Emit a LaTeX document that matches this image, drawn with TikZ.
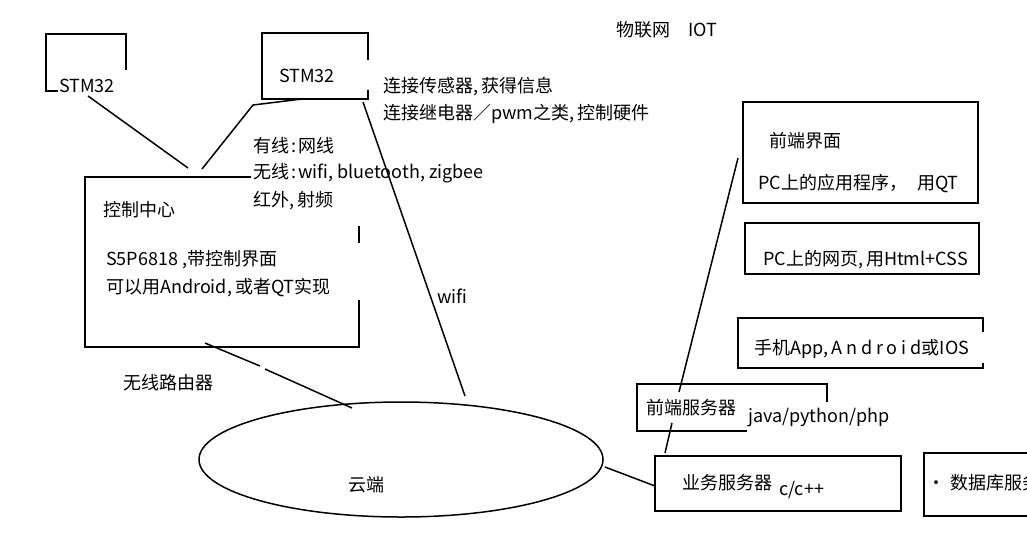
\documentclass[tikz,border=0pt]{standalone}
\usepackage{fontspec}
\setmainfont{Noto Sans CJK SC}
\usetikzlibrary{positioning}
\newcommand{\dou}{,\kern3pt}
\newcommand{\mao}{\kern2pt:\kern2pt}
\tikzset{
  lbl/.style={anchor=west,inner sep=0pt,font=\fontsize{18}{21}\selectfont},
  pen/.style={line width=2pt},
  wire/.style={line width=1.5pt}
}
\begin{document}
\begin{tikzpicture}[x=1pt,y=-1pt]
\useasboundingbox (0,0) rectangle (1027,542);
\clip (0,0) rectangle (1027,542);

% boxes, hand drawn with gaps
\draw[pen] (58,91) -- (46,91) -- (46,34) -- (126,34) -- (126,70);
\draw[pen] (368,60) -- (368,33) -- (262,33) -- (262,99) -- (368,99) -- (368,90);
\draw[pen] (251,177) -- (85,177) -- (85,347) -- (359,347) -- (359,300);
\draw[pen] (359,226) -- (359,243);
\draw[pen] (743,102) rectangle (978,203);
\draw[pen] (745,223) rectangle (979,274);
\draw[pen] (983,332) -- (983,318) -- (738,318) -- (738,368) -- (983,368) -- (983,363);
\draw[pen] (827,402) -- (827,384) -- (637,384) -- (637,431) -- (747,431);
\draw[pen] (655,456) rectangle (901,511);
\draw[pen] (1030,453) -- (924,453) -- (924,516) -- (1030,516);
\draw[wire] (401,459.5) ellipse [x radius=202pt, y radius=57.5pt]; % cloud

% texts
\node[lbl] (title) at (616,30) {物联网\hspace{18pt}IOT};
\node[lbl] (stmA) at (59,86) {STM32};
\node[lbl] (stmB) at (279,76) {STM32};
\node[lbl] (sens) at (383,87) {连接传感器\dou 获得信息};
\node[lbl] (relay) at (383,114) {连接继电器／pwm之类\dou 控制硬件};
\node[lbl] (wired) at (253,146) {有线\mao 网线};
\node[lbl] (wless) at (253,173) {无线\mao wifi, bluetooth, zigbee};
\node[lbl] (ir) at (253,201) {红外\dou 射频};
\node[lbl] (ctrl) at (103,210) {控制中心};
\node[lbl] (soc) at (106,260) {S5P6818 ,带控制界面};
\node[lbl] (ui) at (106,288) {可以用Android\dou 或者QT实现};
\node[lbl] (wifi) at (437,296) {wifi};
\node[lbl] (router) at (123,383) {无线路由器};
\node[lbl] (cloud) at (348,485) {云端};
\node[lbl] (front) at (769,141) {前端界面};
\node[lbl] (pcapp) at (758,184) {PC上的应用程序，\hspace{10pt}用QT};
\node[lbl] (web) at (763,260) {PC上的网页\dou 用Html+CSS};
\node[lbl] (app) at (754,349) {手机App\dou {\addfontfeature{LetterSpace=22}Android}或IOS};
\node[lbl] (fsrv) at (646,408) {前端服务器};
\node[lbl] (fsrvlang) at (748,418) {java/python/php};
\node[lbl] (bsrv) at (682,483) {业务服务器};
\node[lbl] (bsrvlang) at (779,490) {c/c++};
\node[lbl] (db) at (927,483) {·\hspace{5pt}数据库服务器};

% connector ends
\coordinate (stmA-s) at (88,96);
\coordinate (ctrl-nw) at (188,168);
\coordinate (ctrl-n) at (202,169);
\coordinate (bend) at (253,105);
\coordinate (stmB-s) at (302,99);
\coordinate (stmB-se) at (363,102);
\coordinate (cloud-n) at (465,396);
\coordinate (ctrl-s) at (205,343);
\coordinate (gapA) at (260,366);
\coordinate (gapB) at (265,369);
\coordinate (cloud-nw) at (352,408);
\coordinate (cloud-e) at (605,467);
\coordinate (bsrv-w) at (655,486);
\coordinate (fsrv-s) at (672,423);
\coordinate (bsrv-n) at (665,453);
\coordinate (fsrv-n) at (679,392);
\coordinate (front-w) at (738,158);

\draw[wire] (stmA-s) -- (ctrl-nw);
\draw[wire] (ctrl-n) -- (bend) -- (stmB-s);
\draw[wire] (stmB-se) -- (cloud-n);
\draw[wire] (ctrl-s) -- (gapA) (gapB) -- (cloud-nw);
\draw[wire] (cloud-e) -- (bsrv-w);
\draw[wire] (fsrv-s) -- (bsrv-n);
\draw[wire] (fsrv-n) -- (front-w);
\end{tikzpicture}
\end{document}
